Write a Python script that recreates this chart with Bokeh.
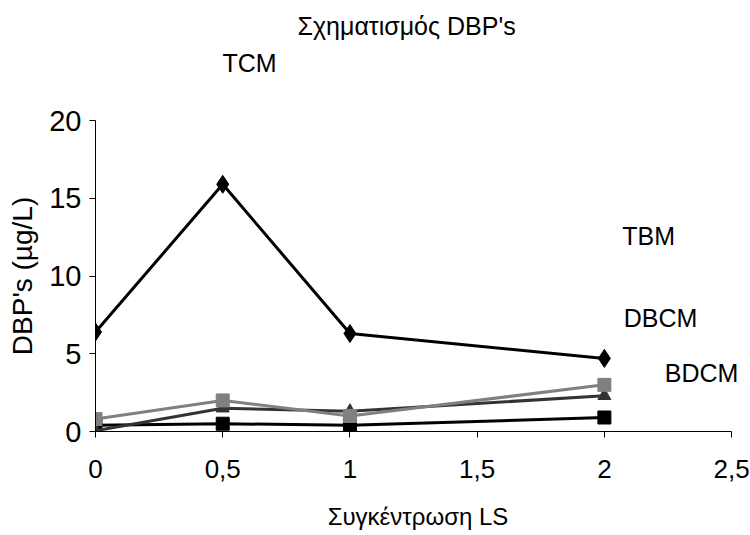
from bokeh.plotting import figure
from bokeh.models import Label, Title, FixedTicker, CustomJSTickFormatter
from bokeh.embed import file_html
from bokeh.resources import INLINE

# Lime-softening dose (LS) and measured disinfection by-products (µg/L)
ls_dose = [0, 0.5, 1, 2]
tcm = [6.4, 15.9, 6.3, 4.7]
tbm = [0.4, 0.5, 0.4, 0.9]
dbcm = [0.05, 1.5, 1.3, 2.3]
bdcm = [0.8, 2.0, 1.0, 3.0]

x_ticks = [0, 0.5, 1, 1.5, 2, 2.5]
y_ticks = [0, 5, 10, 15, 20]

FONT = "'Liberation Sans', Arial, sans-serif"

# Frame reaches a little past 2.5 so the right-hand series names fit;
# the x axis itself stops at 2.5.
p = figure(
    width=750, height=535, title=None,
    x_range=(0, 2.535), y_range=(0, 20),
    output_backend="svg", toolbar_location=None,
    min_border_left=95, min_border_right=10,
    min_border_top=120, min_border_bottom=104,
)
p.outline_line_color = None
p.xgrid.visible = False
p.ygrid.visible = False
p.background_fill_color = "white"
p.border_fill_color = "white"

for ax in (p.xaxis[0], p.yaxis[0]):
    ax.axis_line_color = "black"
    ax.axis_line_width = 1
    ax.major_tick_line_color = "black"
    ax.major_tick_in = 0
    ax.major_tick_out = 6
    ax.minor_tick_line_color = None
    ax.major_label_text_font = FONT
    ax.major_label_text_color = "black"
    ax.axis_label_text_font = FONT
    ax.axis_label_text_font_style = "normal"
    ax.axis_label_text_color = "black"

p.xaxis.bounds = (0, 2.5)
p.xaxis.ticker = FixedTicker(ticks=x_ticks)
p.xaxis.formatter = CustomJSTickFormatter(code="return String(tick).replace('.', ',');")
p.xaxis.major_label_text_font_size = "26px"
p.xaxis.major_label_standoff = 22
p.xaxis.axis_label = "Συγκέντρωση LS"
p.xaxis.axis_label_text_font_size = "24px"
p.xaxis.axis_label_standoff = 22

p.yaxis.ticker = FixedTicker(ticks=y_ticks)
p.yaxis.major_label_text_font_size = "29px"
p.yaxis.major_label_standoff = 8
p.yaxis.axis_label = "DBP's (µg/L)"
p.yaxis.axis_label_text_font_size = "28px"
p.yaxis.axis_label_standoff = 8

# Concentration series
p.line(ls_dose, tbm, line_color="black", line_width=3)
p.scatter(ls_dose, tbm, marker="square", size=13, color="black")

p.line(ls_dose, dbcm, line_color="#333333", line_width=3)
p.scatter(ls_dose, dbcm, marker="triangle", size=13, color="#333333")

p.line(ls_dose, bdcm, line_color="#808080", line_width=3)
p.scatter(ls_dose, bdcm, marker="square", size=13, color="#808080")

p.line(ls_dose, tcm, line_color="black", line_width=3)
p.scatter(ls_dose, tcm, marker="diamond", size=18, color="black")

# Chart title and the TCM caption sit above the frame
p.add_layout(Title(text="TCM", align="left", offset=127, standoff=88,
                   text_font=FONT, text_font_size="25px",
                   text_font_style="normal", text_color="black"), "above")
p.add_layout(Title(text="Σχηματισμός DBP's", align="left", offset=202, standoff=-75,
                   text_font=FONT, text_font_size="25px",
                   text_font_style="normal", text_color="black"), "above")

# Remaining series names beside the lines
def add_text(x, y, txt):
    p.add_layout(Label(x=x, y=y, text=txt, text_font=FONT, text_font_size="25px",
                       text_color="black", text_align="center",
                       text_baseline="alphabetic"))

add_text(2.174, 12.60, "TBM")
add_text(2.221, 7.27, "DBCM")
add_text(2.382, 3.73, "BDCM")

open("out.html", "w").write(file_html(p, INLINE))
